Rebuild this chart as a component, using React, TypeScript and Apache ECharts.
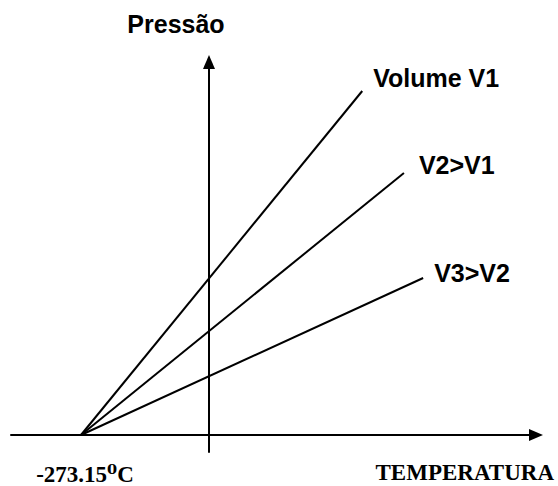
import React, { useEffect, useRef } from "react";
import * as echarts from "echarts";

// Temperature in °C (x) and pressure in arbitrary units (y)
const absoluteZero = -273.15;
const absoluteZeroLabel = "-273.15⁰C";
const seriesNames = ["Volume V1", "V2>V1", "V3>V2"];
const endTemperatures = [327, 416, 457];
const endPressures = [344, 262, 157];
const xAxisTitle = "TEMPERATURA";
const yAxisTitle = "Pressão";
const xRange = [-422.5, 697.8];
const yRange = [-17, 373];

const SANS = "Liberation Sans, Arial, sans-serif";
const SERIF = "Liberation Serif, DejaVu Serif, Times New Roman, serif";

export default function App() {
  const ref = useRef<HTMLDivElement>(null);
  useEffect(() => {
    if (!ref.current) return;
    const chart = echarts.init(ref.current, undefined, { renderer: "svg" });
    const labelOffsets = [
      [3, -13],
      [7, -8],
      [3, -5],
    ];
    const lineSeries = seriesNames.map((name, i) => ({
      type: "line",
      name,
      data: [
        [absoluteZero, 0],
        [endTemperatures[i], endPressures[i]],
      ],
      showSymbol: false,
      symbol: "none",
      lineStyle: { color: "#000", width: 2 },
      endLabel: {
        show: true,
        formatter: name,
        offset: labelOffsets[i],
        color: "#000",
        fontFamily: SANS,
        fontWeight: "bold",
        fontSize: 25,
      },
      z: 3,
    }));
    const axisLine = {
      onZero: true,
      symbol: ["none", "triangle"],
      symbolSize: [12, 14],
      lineStyle: { color: "#000", width: 2 },
    };
    const option = {
      animation: false,
      backgroundColor: "#fff",
      grid: { left: 11, right: 22, top: 62, bottom: 34, containLabel: false },
      xAxis: {
        type: "value",
        min: xRange[0],
        max: xRange[1],
        name: xAxisTitle,
        nameLocation: "end",
        nameGap: 18,
        nameTextStyle: {
          align: "right",
          verticalAlign: "top",
          padding: [26, 0, 0, 0],
          color: "#000",
          fontFamily: SERIF,
          fontWeight: "bold",
          fontSize: 23,
        },
        axisLine,
        axisTick: { show: false },
        axisLabel: { show: false },
        splitLine: { show: false },
      },
      yAxis: {
        type: "value",
        min: yRange[0],
        max: yRange[1],
        name: yAxisTitle,
        nameLocation: "end",
        nameGap: 26,
        nameTextStyle: {
          align: "center",
          padding: [0, 66, 0, 0],
          color: "#000",
          fontFamily: SANS,
          fontWeight: "bold",
          fontSize: 25,
        },
        axisLine,
        axisTick: { show: false },
        axisLabel: { show: false },
        splitLine: { show: false },
      },
      series: [
        ...lineSeries,
        {
          type: "scatter",
          data: [[absoluteZero, 0]],
          symbolSize: 0,
          itemStyle: { color: "transparent", opacity: 1 },
          label: {
            show: true,
            position: "bottom",
            distance: 28,
            offset: [4, 0],
            formatter: absoluteZeroLabel,
            color: "#000",
            opacity: 1,
            fontFamily: SERIF,
            fontWeight: "bold",
            fontSize: 23,
            lineHeight: 22,
          },
          z: 4,
        },
      ],
    };
    chart.setOption(option as any);
    return () => chart.dispose();
  }, []);
  return (
    <div
      ref={ref}
      style={{ position: "fixed", left: 0, top: 0, width: 558, height: 486 }}
    />
  );
}
